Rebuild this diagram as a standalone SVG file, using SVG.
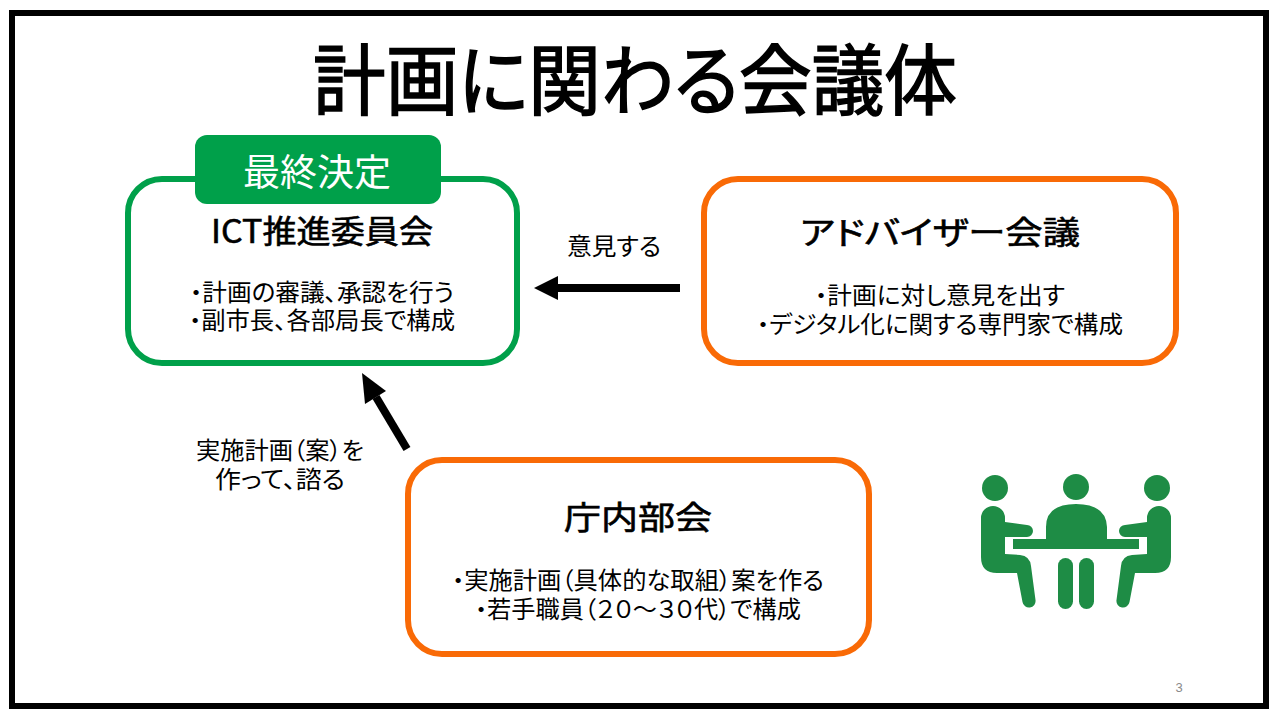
<svg xmlns="http://www.w3.org/2000/svg" width="1280" height="720" viewBox="0 0 1280 720">
<defs>
<style>
text{font-family:"Noto Sans CJK JP","Noto Sans",sans-serif;fill:#000;text-anchor:middle;font-feature-settings:"palt"}
.box{fill:#fff;stroke-width:6}
.g{stroke:#00a04a}.o{stroke:#f96a06}
.h{font-size:32px;stroke:#000;stroke-width:.6px}
.b{font-size:24px}
.icon{fill:#1e8c45}
.conn{stroke:#000;stroke-width:8;fill:none}
</style>
</defs>
<rect x="0" y="0" width="1280" height="720" fill="#fff"/>
<rect x="12" y="13" width="1254" height="693" fill="none" stroke="#000" stroke-width="6"/>
<text id="title" x="635" y="109" font-size="77" stroke="#000" stroke-width="1.600" textLength="644" lengthAdjust="spacingAndGlyphs">計画に関わる会議体</text>
<g id="connectors">
<path class="conn" d="M680 288H555"/><polygon points="534,288 558,276 558,300"/>
<path class="conn" d="M407 449L376 397"/><polygon points="362,373 386,391 365,404"/>
</g>
<g id="node-ict">
<rect class="box g" x="128" y="179" width="389" height="184" rx="34"/>
<text class="h" x="322" y="243" textLength="222" lengthAdjust="spacingAndGlyphs">ICT推進委員会</text>
<text class="b" x="322" y="301" textLength="264" lengthAdjust="spacingAndGlyphs">・計画の審議、承認を行う</text>
<text class="b" x="322" y="329" textLength="266" lengthAdjust="spacingAndGlyphs">・副市長、各部局長で構成</text>
</g>
<g id="badge">
<rect x="195" y="135" width="246" height="69" rx="12" fill="#00a04a"/>
<text x="317" y="186" font-size="37" style="fill:#fff" textLength="148" lengthAdjust="spacingAndGlyphs">最終決定</text>
</g>
<g id="node-adv">
<rect class="box o" x="704" y="179" width="472" height="184" rx="34"/>
<text class="h" x="940" y="244" textLength="280" lengthAdjust="spacingAndGlyphs">アドバイザー会議</text>
<text class="b" x="940" y="304" textLength="250" lengthAdjust="spacingAndGlyphs">・計画に対し意見を出す</text>
<text class="b" x="940" y="333" textLength="366" lengthAdjust="spacingAndGlyphs">・デジタル化に関する専門家で構成</text>
</g>
<g id="node-bu">
<rect class="box o" x="408" y="460" width="461" height="194" rx="34"/>
<text class="h" x="638" y="529" textLength="148" lengthAdjust="spacingAndGlyphs">庁内部会</text>
<text class="b" x="638" y="589" textLength="372" lengthAdjust="spacingAndGlyphs">・実施計画（具体的な取組）案を作る</text>
<text class="b" x="638" y="618" textLength="326" lengthAdjust="spacingAndGlyphs">・若手職員（２０～３０代）で構成</text>
</g>
<text id="label-opinion" class="b" x="614" y="255" textLength="94" lengthAdjust="spacingAndGlyphs">意見する</text>
<text id="label-plan1" class="b" x="280" y="459" textLength="168" lengthAdjust="spacingAndGlyphs">実施計画（案）を</text>
<text id="label-plan2" class="b" x="280" y="488" textLength="130" lengthAdjust="spacingAndGlyphs">作って、諮る</text>
<g id="icon-meeting" class="icon">
<circle cx="995" cy="488" r="13"/><circle cx="1076" cy="487" r="13"/><circle cx="1157" cy="488" r="13"/>
<path d="M981 518a12 12 0 0 1 24 0V522L1027 525a6 6 0 0 1 0 12L1005 537V554L1020 555Q1030 556 1031 566L1035.500 600A6.500 6.500 0 0 1 1022.500 602L1017 573H997Q981 573 981 557Z"/>
<path transform="matrix(-1 0 0 1 2152 0)" d="M981 518a12 12 0 0 1 24 0V522L1027 525a6 6 0 0 1 0 12L1005 537V554L1020 555Q1030 556 1031 566L1035.500 600A6.500 6.500 0 0 1 1022.500 602L1017 573H997Q981 573 981 557Z"/>
<path d="M1013 539h33v-12q0-23 30-23t31 23v12h32v10h-126z"/>
<rect x="1058" y="558" width="15" height="51" rx="7.500"/><rect x="1079" y="558" width="15" height="51" rx="7.500"/>
</g>
<text id="page" x="1179" y="692" font-size="13" style="fill:#8a8a8a;font-family:'Liberation Sans',sans-serif">3</text>
</svg>
